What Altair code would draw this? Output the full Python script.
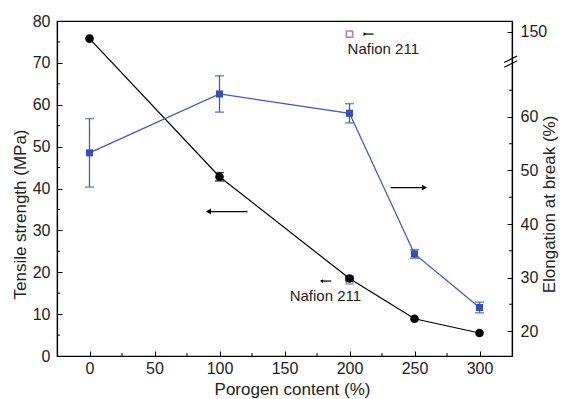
import altair as alt
import pandas as pd

# ---------------- data ----------------
porogen = [0, 100, 200, 250, 300]
tensile = [75.8, 42.8, 18.5, 8.9, 5.5]
tensile_err = [0.0, 1.0, 0.5, 0.0, 0.0]
elongation = [53.3, 64.3, 60.7, 34.4, 24.4]
elongation_err = [6.4, 3.4, 1.8, 0.8, 1.0]

nafion_label = "Nafion 211"
nafion_porogen = [200]
nafion_tensile = [18.0]
nafion_elongation = [150]

x_ticks = [0, 50, 100, 150, 200, 250, 300]
x_minor = [25, 75, 125, 175, 225, 275]
left_ticks = [0, 10, 20, 30, 40, 50, 60, 70, 80]
left_minor = [5, 15, 25, 35, 45, 55, 65, 75]
right_ticks = [20, 30, 40, 50, 60]
right_minor = [25, 35, 45, 55, 65]
right_break_value = 150

# ---------------- layout / style ----------------
W, H = 455, 335
X_DOMAIN = [-25, 325]
LEFT_DOMAIN = [0, 80]
RIGHT_DOMAIN = [15.33, 77.94]
BREAK_POS = 75.9      # where values above the axis break are drawn
BREAK_MARK = 70.3     # where the // break symbol sits
FONT = "Liberation Sans"
TXT = "#222222"
BLUE_LINE = "#4259c0"
BLUE_MARK = "#3550b4"
PURPLE = "#9a3fa8"

xs = alt.Scale(domain=X_DOMAIN, nice=False, zero=False)
ls = alt.Scale(domain=LEFT_DOMAIN, nice=False, zero=False)
rs = alt.Scale(domain=RIGHT_DOMAIN, nice=False, zero=False)

x_axis = alt.Axis(values=x_ticks, tickSize=alt.ExprRef(expr="-5"), labelPadding=9,
                  title="Porogen content (%)", titleX=235, titleY=33,
                  titleBaseline="middle", titleAlign="center")
left_axis = alt.Axis(orient="left", values=left_ticks, tickSize=alt.ExprRef(expr="-5"),
                     labelPadding=12, title="Tensile strength (MPa)",
                     titleX=-37, titleY=193, titleAngle=270,
                     titleAlign="center", titleBaseline="middle")
right_axis = alt.Axis(orient="right", values=right_ticks + [BREAK_POS],
                      tickSize=alt.ExprRef(expr="-5"), labelPadding=13,
                      labelExpr=f"datum.value > 70 ? '{right_break_value}' : datum.label",
                      title="Elongation at break (%)",
                      titleX=37, titleY=183, titleAngle=270,
                      titleAlign="center", titleBaseline="middle")


def X(field="porogen"):
    return alt.X(f"{field}:Q", scale=xs, axis=x_axis)


def YL(field):
    return alt.Y(f"{field}:Q", scale=ls, axis=left_axis)


def YR(field):
    return alt.Y(f"{field}:Q", scale=rs, axis=right_axis)


ts = pd.DataFrame({"porogen": porogen, "ts": tensile, "err": tensile_err})
ts["lo"] = ts["ts"] - ts["err"]
ts["hi"] = ts["ts"] + ts["err"]
ts_err = ts[ts["err"] > 0]

el = pd.DataFrame({"porogen": porogen, "el": elongation, "err": elongation_err})
el["lo"] = el["el"] - el["err"]
el["hi"] = el["el"] + el["err"]

naf_ts = pd.DataFrame({"porogen": nafion_porogen, "ts": nafion_tensile})
naf_el = pd.DataFrame({"porogen": nafion_porogen, "el": nafion_elongation})

# ---------------- left (tensile) group ----------------
l_line = alt.Chart(ts).mark_line(color="black", strokeWidth=1.2).encode(x=X(), y=YL("ts"))
l_err = alt.Chart(ts_err).mark_rule(color="black", strokeWidth=1.2).encode(
    x=X(), y=YL("lo"), y2="hi")
l_cap_hi = alt.Chart(ts_err).mark_tick(color="black", orient="horizontal", size=9, thickness=1.5).encode(
    x=X(), y=YL("hi"))
l_cap_lo = alt.Chart(ts_err).mark_tick(color="black", orient="horizontal", size=9, thickness=1.5).encode(
    x=X(), y=YL("lo"))
l_naf = alt.Chart(naf_ts).mark_point(shape="square", color=PURPLE, size=45, strokeWidth=1.3).encode(
    x=X(), y=YL("ts"))
l_pts = alt.Chart(ts).mark_point(shape="circle", filled=True, color="black", size=75, opacity=1).encode(
    x=X(), y=YL("ts"))

# minor ticks (inward)
l_minor = alt.Chart(pd.DataFrame({"v": left_minor})).mark_rule(color="black").encode(
    y=YL("v"), x=alt.value(0), x2=alt.value(3))
x_minor_ticks = alt.Chart(pd.DataFrame({"porogen": x_minor})).mark_rule(color="black").encode(
    x=X(), y=alt.value(H), y2=alt.value(H - 3))

# arrows / labels in tensile units
arrow_l = pd.DataFrame({"x1": [91.5], "x2": [121.5], "y": [34.5]})
l_arrow = alt.Chart(arrow_l).mark_rule(color="black", strokeWidth=1.2).encode(
    x=X("x1"), x2="x2", y=YL("y"))
l_head = alt.Chart(arrow_l).mark_point(shape="triangle-left", filled=True, color="black", size=35, opacity=1).encode(
    x=X("x1"), y=YL("y"))

small_l = pd.DataFrame({"x1": [178.5], "x2": [186.0], "y": [17.9]})
s_arrow = alt.Chart(small_l).mark_rule(color="black", strokeWidth=1.2).encode(
    x=X("x1"), x2="x2", y=YL("y"))
s_head = alt.Chart(small_l).mark_point(shape="triangle-left", filled=True, color="black", size=14, opacity=1).encode(
    x=X("x1"), y=YL("y"))

lab_l = pd.DataFrame({"porogen": [154.0], "y": [14.3], "t": [nafion_label]})
l_text = alt.Chart(lab_l).mark_text(align="left", baseline="middle", font=FONT, fontSize=15, color=TXT).encode(
    x=X(), y=YL("y"), text="t:N")

left_group = alt.layer(l_line, l_err, l_cap_hi, l_cap_lo, l_naf, l_pts, l_minor, x_minor_ticks,
                       l_arrow, l_head, s_arrow, s_head, l_text)

# ---------------- right (elongation) group ----------------
disp = f"datum.el > 100 ? {BREAK_POS} - 0.4 : datum.el"
r_line = alt.Chart(el).mark_line(color=BLUE_LINE, strokeWidth=1.3).encode(x=X(), y=YR("el"))
r_err = alt.Chart(el).mark_rule(color=BLUE_LINE, strokeWidth=1.3).encode(x=X(), y=YR("lo"), y2="hi")
r_cap_hi = alt.Chart(el).mark_tick(color=BLUE_LINE, orient="horizontal", size=9, thickness=1.5).encode(
    x=X(), y=YR("hi"))
r_cap_lo = alt.Chart(el).mark_tick(color=BLUE_LINE, orient="horizontal", size=9, thickness=1.5).encode(
    x=X(), y=YR("lo"))
r_pts = alt.Chart(el).mark_point(shape="square", filled=True, color=BLUE_MARK, size=50, opacity=1).encode(
    x=X(), y=YR("el"))
r_naf = alt.Chart(naf_el).transform_calculate(d=disp).mark_point(
    shape="square", color=PURPLE, size=40, strokeWidth=1.5).encode(x=X(), y=YR("d"))

r_minor = alt.Chart(pd.DataFrame({"v": right_minor})).mark_rule(color="black").encode(
    y=YR("v"), x=alt.value(W), x2=alt.value(W - 3))

brk = pd.DataFrame({"x1": [319.0, 319.0], "x2": [329.0, 329.0],
                    "y1": [BREAK_MARK - 0.1, BREAK_MARK - 1.0],
                    "y2": [BREAK_MARK + 1.1, BREAK_MARK + 0.2]})
r_break = alt.Chart(brk).mark_rule(color="black", strokeWidth=1.2).encode(
    x=X("x1"), x2="x2", y=YR("y1"), y2="y2")

arrow_r = pd.DataFrame({"x1": [231.5], "x2": [257.7], "y": [46.8]})
r_arrow = alt.Chart(arrow_r).mark_rule(color="black", strokeWidth=1.2).encode(
    x=X("x1"), x2="x2", y=YR("y"))
r_head = alt.Chart(arrow_r).mark_point(shape="triangle-right", filled=True, color="black", size=35, opacity=1).encode(
    x=X("x2"), y=YR("y"))

small_r = pd.DataFrame({"x1": [212.0], "x2": [218.5], "y": [75.5]})
sr_arrow = alt.Chart(small_r).mark_rule(color="black", strokeWidth=1.2).encode(
    x=X("x1"), x2="x2", y=YR("y"))
sr_head = alt.Chart(small_r).mark_point(shape="triangle-right", filled=True, color="black", size=14, opacity=1).encode(
    x=X("x1"), y=YR("y"))

lab_r = pd.DataFrame({"porogen": [198.5], "y": [72.8], "t": [nafion_label]})
r_text = alt.Chart(lab_r).mark_text(align="left", baseline="middle", font=FONT, fontSize=15, color=TXT).encode(
    x=X(), y=YR("y"), text="t:N")

right_group = alt.layer(r_line, r_err, r_cap_hi, r_cap_lo, r_pts, r_naf, r_minor, r_break,
                        r_arrow, r_head, sr_arrow, sr_head, r_text)

chart = alt.layer(left_group, right_group).resolve_scale(y="independent").properties(
    width=W, height=H,
    autosize=alt.AutoSizeParams(type="none"),
    padding={"left": 57, "top": 21, "right": 51, "bottom": 43},
    background="white",
).configure_view(stroke="black", strokeWidth=1.2).configure_axis(
    grid=False, domainColor="black", domainWidth=1.2, tickColor="black", tickWidth=1,
    labelFont=FONT, labelFontSize=16, labelColor=TXT,
    titleFont=FONT, titleFontSize=17, titleColor=TXT, titleFontWeight="normal",
)

chart.save("out.html", embed_options={"renderer": "svg", "actions": False})
